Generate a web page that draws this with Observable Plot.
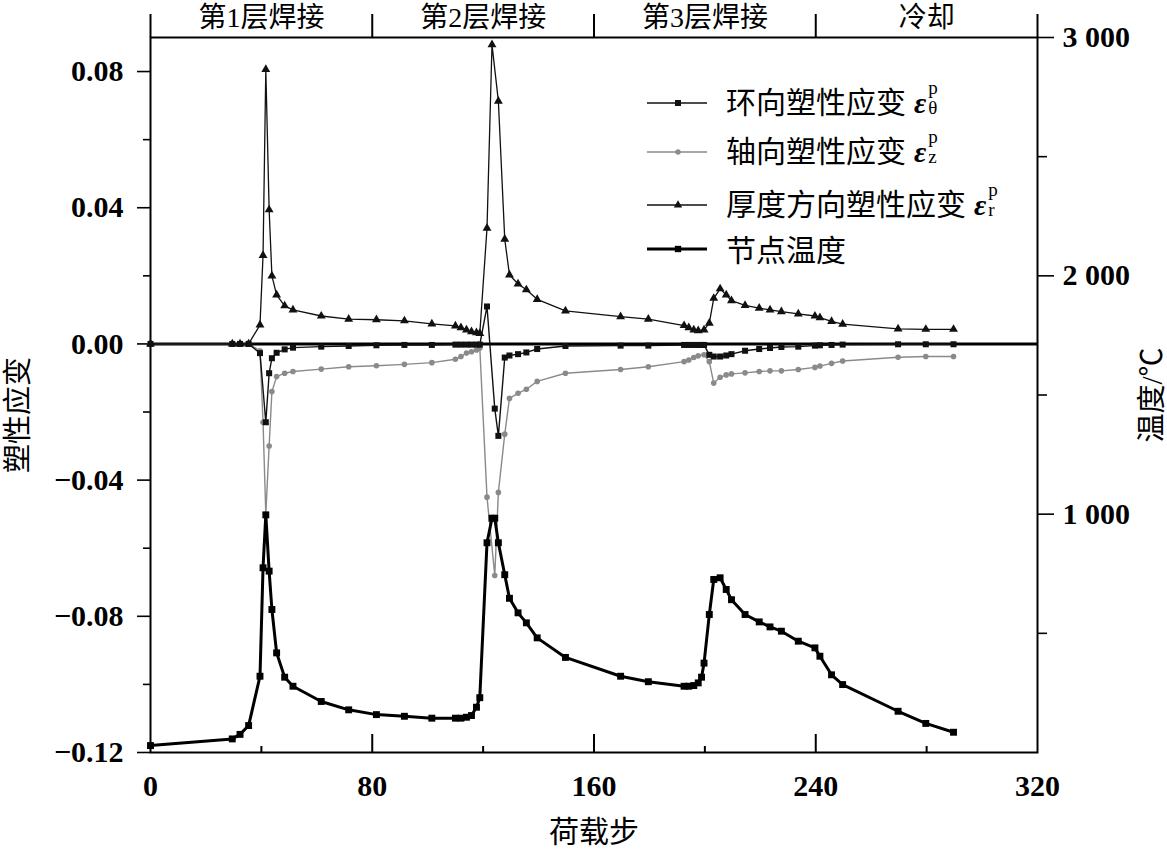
<!DOCTYPE html>
<html>
<head>
<meta charset="utf-8">
<script src="https://cdn.jsdelivr.net/npm/d3@7"></script>
<script src="https://cdn.jsdelivr.net/npm/@observablehq/plot@0.6"></script>
<style>
  html, body { margin: 0; padding: 0; background: #fff; }
  #wrap { position: relative; width: 1167px; height: 854px; overflow: hidden; }
  #chart svg text { font-family: "Liberation Serif", "Noto Sans CJK SC", serif; }
  #legend .row { position: absolute; left: 0; height: 0; }
  #legend svg { position: absolute; left: 647px; top: -10px; }
  #legend .txt { position: absolute; left: 726px; top: 0; transform: translateY(-52%); white-space: nowrap;
    font-family: "Noto Sans CJK SC", sans-serif; font-size: 30px; line-height: 1; color: #000; }
  #legend .eps { font-family: "Liberation Serif", serif; font-style: italic; font-weight: bold; font-size: 30px; margin-left: 8px; }
  #legend .ss { display: inline-block; position: relative; width: 14px; height: 30px; vertical-align: middle; }
  #legend .sup, #legend .sub { position: absolute; left: 2px; font-family: "Liberation Serif", serif; font-size: 19px; line-height: 1; }
  #legend .sup { top: -12px; }
  #legend .sub { top: 8px; }
</style>
</head>
<body>
<div id="wrap"><div id="chart"></div><div id="legend"></div></div>
<script>
// ---- data ----
const steps = [0, 29.5, 32.3, 35.4, 39.5, 40.6, 41.6, 42.8, 43.8, 45.5, 48.4, 51.4,
  61.6, 71.5, 81.5, 91.6, 101.5, 110, 112, 114, 115.8, 117.6, 118.8,
  121.4, 123.2, 124.2, 125.5, 127.8, 129.5, 132.6, 135.6, 139.5,
  149.7, 169.6, 179.6,
  192.5, 194.2, 196, 197.6, 198.8, 199.7, 201.6,
  203.2, 205.5, 207.7, 209.6, 214.5, 219.6, 223.5, 227.6, 233.7,
  239.7, 241.5, 245.7, 249.7, 269.7, 279.7, 289.7];

// 节点温度 (°C)
const tempC = [29, 57, 76, 113, 320, 775, 997, 761, 600, 418, 316, 278,
  214, 179, 159, 152, 144, 144, 144, 148, 155, 190, 230,
  880, 983, 983, 880, 746, 647, 586, 544, 481,
  399, 320, 297,
  278, 278, 281, 292, 316, 375, 579,
  726, 733, 684, 641, 579, 548, 527, 509, 467,
  439, 404, 326, 285, 173, 122, 85];

// 厚度方向塑性应变 ε_r^p
const strainR = [0, 0, 0, 0, 0.0056, 0.026, 0.0806, 0.0394, 0.020, 0.0144, 0.0112, 0.010,
  0.0082, 0.0073, 0.0071, 0.0068, 0.0059, 0.0053, 0.0048, 0.0041, 0.0036, 0.0033, 0.0031,
  0.034, 0.0879, null, 0.0713, 0.0308, 0.0203, 0.0176, 0.0159, 0.0131,
  0.0097, 0.0080, 0.0073,
  0.0054, 0.0048, 0.0041, 0.0039, null, 0.0041, 0.0061,
  0.0134, 0.0162, 0.0144, 0.0127, 0.0113, 0.0105, 0.0100, 0.0095, 0.0088,
  0.0082, 0.0077, 0.0066, 0.0058, 0.0044, 0.0043, 0.0043];

// 环向塑性应变 ε_θ^p
const strainTheta = [0, 0, 0, 0, -0.0027, null, -0.023, -0.0086, -0.0042, -0.0026, -0.0016, -0.0011,
  -0.0008, -0.0006, -0.0004, -0.0003, -0.0003, -0.0002, -0.0002, -0.0002, -0.0002, -0.0002, -0.0002,
  0.011, null, -0.019, -0.027, -0.004, -0.0034, -0.003, -0.0025, -0.0015,
  -0.0006, -0.0005, -0.0005,
  -0.0003, -0.0003, -0.0003, -0.0003, -0.0003, -0.0003, -0.0032,
  -0.0037, -0.0037, -0.0034, -0.003, -0.002, -0.0015, -0.0012, -0.0009, -0.0008,
  -0.0005, -0.0004, -0.0003, -0.0002, -0.0001, -0.0001, -0.0001];

// 轴向塑性应变 ε_z^p
const strainZ = [0, 0, 0, 0, -0.002, -0.023, -0.050, -0.030, -0.014, -0.0096, -0.0086, -0.0081,
  -0.0074, -0.0067, -0.0064, -0.006, -0.0055, -0.0045, -0.0037, -0.0027, -0.0023, -0.0018, -0.0012,
  -0.045, null, -0.068, -0.0436, -0.0265, -0.016, -0.0145, -0.0133, -0.011,
  -0.0086, -0.0075, -0.0067,
  -0.0052, -0.0047, -0.004, -0.0035, null, -0.0032, -0.0052,
  -0.0115, -0.0098, -0.0091, -0.0088, -0.0085, -0.0081, -0.0079, -0.0079, -0.0075,
  -0.0069, -0.0065, -0.0057, -0.005, -0.0039, -0.0037, -0.0037];

const phaseLabels = ["第1层焊接", "第2层焊接", "第3层焊接", "冷却"];
const phaseBounds = [0, 80, 160, 240, 320];

const xMajorTicks = [0, 80, 160, 240, 320];
const xMinorTicks = [40, 120, 200, 280];
const yMajorTicks = [-0.12, -0.08, -0.04, 0.00, 0.04, 0.08];
const yMinorTicks = [-0.10, -0.06, -0.02, 0.02, 0.06];
const tMajorTicks = [1000, 2000, 3000];
const tMinorTicks = [500, 1500, 2500];

const legendLabels = ["环向塑性应变", "轴向塑性应变", "厚度方向塑性应变", "节点温度"];
const legendSubs = ["θ", "z", "r", null];

// ---- scales ----
const yDomain = [-0.12, 0.09];
const tDomain = [0, 3000];
const toY = t => yDomain[0] + (t - tDomain[0]) / (tDomain[1] - tDomain[0]) * (yDomain[1] - yDomain[0]);
const fromY = y => tDomain[0] + (y - yDomain[0]) / (yDomain[1] - yDomain[0]) * (tDomain[1] - tDomain[0]);

const rows = vals => steps.map((s, i) => ({step: s, v: vals[i]})).filter(d => d.v != null);
const rowsT = steps.map((s, i) => ({step: s, v: toY(tempC[i])}));
const rowsR = rows(strainR), rowsTh = rows(strainTheta), rowsZ = rows(strainZ);
const phases = phaseLabels.map((l, i) => ({label: l, mid: (phaseBounds[i] + phaseBounds[i + 1]) / 2}));

const W = 1167, H = 854, mL = 150, mR = 130, mT = 37, mB = 102;
const frameH = H - mT - mB;
const fmtY = d3.format(".2f");
const fmtT = d => d3.format(",")(Math.round(d)).replace(/,/g, " ");
const GRAY = "#8a8a8a";

const chart = Plot.plot({
  width: W, height: H,
  marginLeft: mL, marginRight: mR, marginTop: mT, marginBottom: mB,
  style: {background: "#fff", color: "#000", fontSize: "30px", overflow: "visible"},
  x: {domain: [0, 320]},
  y: {domain: yDomain},
  marks: [
    // axes
    Plot.axisY({anchor: "left", ticks: yMajorTicks, tickSize: 13, tickPadding: 14, tickFormat: fmtY,
      fontSize: 30, fontWeight: "bold", label: null, strokeWidth: 1.6}),
    Plot.axisY({anchor: "left", ticks: yMinorTicks, tickSize: 7, tickFormat: () => "", label: null, strokeWidth: 1.6}),
    Plot.axisY({anchor: "right", ticks: tMajorTicks.map(toY), tickSize: 16, tickPadding: 9,
      tickFormat: d => fmtT(fromY(d)), fontSize: 30, fontWeight: "bold", label: null, strokeWidth: 1.6}),
    Plot.axisY({anchor: "right", ticks: tMinorTicks.map(toY), tickSize: 9, tickFormat: () => "", label: null, strokeWidth: 1.6}),
    Plot.axisX({anchor: "bottom", ticks: xMajorTicks, tickSize: 0, tickPadding: 22,
      fontSize: 30, fontWeight: "bold", label: null}),
    Plot.tickX(xMajorTicks.slice(1, -1), {x: d => d, insetTop: frameH - 18, strokeWidth: 2}),
    Plot.tickX(xMinorTicks, {x: d => d, insetTop: frameH - 6, strokeWidth: 2}),
    // phase band
    Plot.tickX(phaseBounds, {x: d => d, insetTop: -23, insetBottom: frameH, strokeWidth: 2}),
    Plot.text(phases, {x: "mid", text: "label", frameAnchor: "top", dy: -19, lineAnchor: "middle",
      fontSize: 28}),
    // titles
    Plot.text(["荷载步"], {frameAnchor: "bottom", dy: 80, textAnchor: "middle", lineAnchor: "middle", fontSize: 30}),
    Plot.text(["塑性应变"], {frameAnchor: "left", dx: -132, dy: 20, rotate: -90, textAnchor: "middle", lineAnchor: "middle", fontSize: 29}),
    Plot.text(["温度/℃"], {frameAnchor: "right", dx: 115, dy: 0, rotate: -90, textAnchor: "middle", lineAnchor: "middle", fontSize: 29}),
    Plot.frame({strokeWidth: 2}),
    Plot.ruleY([0], {strokeWidth: 3}),
    // series
    Plot.line(rowsZ, {x: "step", y: "v", stroke: GRAY, strokeWidth: 1.4}),
    Plot.dot(rowsZ, {x: "step", y: "v", r: 2.8, fill: GRAY, stroke: "none"}),
    Plot.line(rowsTh, {x: "step", y: "v", stroke: "#111", strokeWidth: 1.4}),
    Plot.dot(rowsTh, {x: "step", y: "v", symbol: "square", r: 3.4, fill: "#111", stroke: "none"}),
    Plot.line(rowsR, {x: "step", y: "v", stroke: "#111", strokeWidth: 1.3}),
    Plot.dot(rowsR, {x: "step", y: "v", symbol: "triangle", r: 3.3, fill: "#111", stroke: "none"}),
    Plot.line(rowsT, {x: "step", y: "v", stroke: "#000", strokeWidth: 3}),
    Plot.dot(rowsT, {x: "step", y: "v", symbol: "square", r: 3.9, fill: "#000", stroke: "none"})
  ]
});
document.getElementById("chart").appendChild(chart);

// ---- legend ----
const legendRowY = [103, 152, 205, 249];
const legendStyles = [
  {stroke: "#111", w: 1.4, sym: "square", size: 36, fill: "#111"},
  {stroke: GRAY, w: 1.4, sym: "circle", size: 22, fill: GRAY},
  {stroke: "#111", w: 1.4, sym: "triangle", size: 30, fill: "#111"},
  {stroke: "#000", w: 3, sym: "square", size: 40, fill: "#000"}
];
const symMap = {square: d3.symbolSquare, circle: d3.symbolCircle, triangle: d3.symbolTriangle};
const leg = d3.select("#legend");
legendLabels.forEach((lab, i) => {
  const row = leg.append("div").attr("class", "row").style("top", legendRowY[i] + "px");
  const st = legendStyles[i];
  const svg = row.append("svg").attr("width", 62).attr("height", 20);
  svg.append("line").attr("x1", 0).attr("x2", 60).attr("y1", 10).attr("y2", 10)
    .attr("stroke", st.stroke).attr("stroke-width", st.w);
  svg.append("path").attr("transform", "translate(31,10)")
    .attr("d", d3.symbol(symMap[st.sym], st.size)()).attr("fill", st.fill);
  const t = row.append("div").attr("class", "txt");
  t.append("span").text(lab);
  if (legendSubs[i]) {
    t.append("span").attr("class", "eps").text("ε");
    const ss = t.append("span").attr("class", "ss");
    ss.append("span").attr("class", "sup").text("p");
    ss.append("span").attr("class", "sub").text(legendSubs[i]);
  }
});
</script>
</body>
</html>
